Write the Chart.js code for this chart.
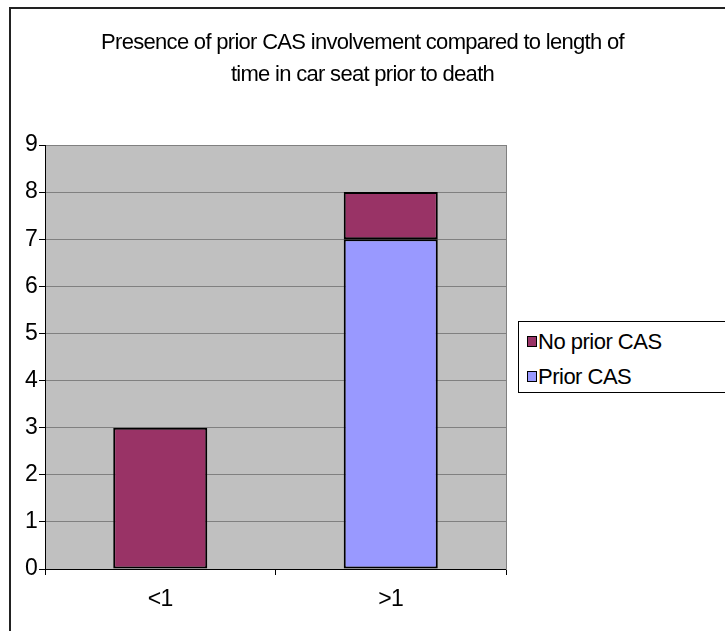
<!DOCTYPE html>
<html>
<head>
<meta charset="utf-8">
<script src="https://cdn.jsdelivr.net/npm/chart.js@4.4.1/dist/chart.umd.min.js"></script>
<style>
    body { margin: 0; background: #fff; overflow: hidden; }
    #wrap { position: relative; width: 725px; height: 631px; }
    #frame { position: absolute; left: 9px; top: 7px; width: 800px; height: 700px;
             border-left: 2px solid #222; border-top: 2px solid #222; pointer-events: none; }
    #legend { position: absolute; left: 518px; top: 321px; width: 220px; height: 68px;
              border: 1px solid #000; background: #fff; padding-top: 2px; box-sizing: content-box;
              font-family: "Liberation Sans", Arial, sans-serif; font-size: 22px; letter-spacing: -0.5px; }
    #legend .row { display: flex; align-items: center; height: 35px; }
    #legend .key { width: 8px; height: 9px; border: 1px solid #000; margin-left: 8px; margin-right: 1px; }
</style>
</head>
<body>
<div id="wrap">
    <canvas id="casChart" width="725" height="631"></canvas>
    <div id="frame"></div>
    <div id="legend"></div>
</div>
<script>
// Daten
const categories = ['<1', '>1'];
const priorCas = [null, 7];
const noPriorCas = [3, 1];
const yMax = 9;
const titleLines = ['Presence of prior CAS involvement compared to length of', 'time in car seat prior to death'];

const colorNoPrior = '#993366';
const colorPrior = '#9999FF';

// graue Fläche hinter dem Plot
const plotBackground = {
    id: 'plotBackground',
    beforeDraw(chart) {
        const { ctx, chartArea } = chart;
        ctx.letterSpacing = '-0.7px';
        ctx.save();
        ctx.fillStyle = '#C0C0C0';
        ctx.fillRect(chartArea.left, chartArea.top, chartArea.right - chartArea.left, chartArea.bottom - chartArea.top);
        ctx.restore();
    }
};

const datasets = [
    {
        label: 'Prior CAS',
        data: priorCas,
        backgroundColor: colorPrior,
        borderColor: '#000',
        borderWidth: 2,
        borderSkipped: false
    },
    {
        label: 'No prior CAS',
        data: noPriorCas,
        backgroundColor: colorNoPrior,
        borderColor: '#000',
        borderWidth: 2,
        borderSkipped: false
    }
];

const font = { family: '"Liberation Sans", Arial, sans-serif', size: 23 };

const config = {
    type: 'bar',
    data: { labels: categories, datasets: datasets },
    options: {
        responsive: false,
        animation: false,
        layout: { padding: 0 },
        datasets: { bar: { barPercentage: 0.408, categoryPercentage: 1 } },
        scales: {
            x: {
                stacked: true,
                grid: { offset: true, drawOnChartArea: false, tickColor: '#000', tickLength: 6 },
                border: { color: '#000', width: 1 },
                ticks: { color: '#000', font: font, padding: 11 },
                afterFit(scale) { scale.height = 62; }
            },
            y: {
                stacked: true,
                min: 0,
                max: yMax,
                grid: { color: '#808080', tickColor: '#000', tickLength: 6 },
                border: { color: '#000', width: 1 },
                ticks: { stepSize: 1, color: '#000', font: font, padding: 2 },
                afterFit(scale) { scale.width = 45; }
            },
            y2: {
                position: 'right',
                display: true,
                grid: { display: false, drawTicks: false },
                border: { display: true, color: '#808080', width: 1 },
                ticks: { display: false },
                afterFit(scale) { scale.width = 219; }
            }
        },
        plugins: {
            legend: { display: false },
            tooltip: { enabled: false },
            title: {
                display: true,
                text: titleLines,
                color: '#000',
                font: { family: '"Liberation Sans", Arial, sans-serif', size: 22, weight: 'normal', lineHeight: 32 / 22 },
                padding: { top: 27, bottom: 54 }
            }
        }
    },
    plugins: [plotBackground]
};

const casChart = new Chart(document.getElementById('casChart'), config);

// Legende wie in Excel: obere Serie zuerst
const legendEl = document.getElementById('legend');
datasets.slice().reverse().forEach(ds => {
    const row = document.createElement('div');
    row.className = 'row';
    const key = document.createElement('span');
    key.className = 'key';
    key.style.background = ds.backgroundColor;
    const txt = document.createElement('span');
    txt.textContent = ds.label;
    row.appendChild(key);
    row.appendChild(txt);
    legendEl.appendChild(row);
});
</script>
</body>
</html>
